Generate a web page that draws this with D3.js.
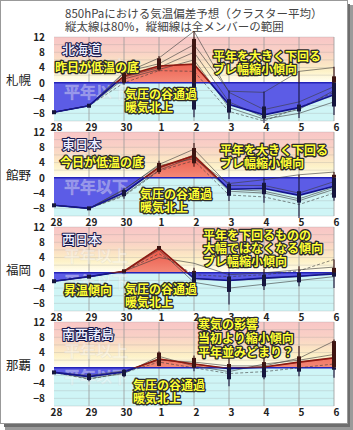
<!DOCTYPE html>
<html>
<head>
<meta charset="utf-8">
<script src="https://cdn.jsdelivr.net/npm/d3@7"></script>
<style>
body { margin: 0; background: #fff; }
text { font-family: "Noto Sans CJK JP", "DejaVu Sans", sans-serif; }
</style>
</head>
<body>
<svg id="chart" width="353" height="430"></svg>
<script>
var days = ['28', '29', '30', '1', '2', '3', '4', '5', '6'];
var cities = ['札幌', '館野', '福岡', '那覇'];
var regions = ['北海道', '東日本', '西日本', '南西諸島'];
var yTicks = [12, 8, 4, 0, -4, -8];

// cluster mean
var meanSapporo = [-7.7, -6.0, 1.8, 4.4, 4.9, -5.7, -8.4, -6.5, -3.1];
var meanTateno = [-7.2, -8.0, -3.9, 2.8, 5.8, -3.0, -2.8, -4.6, -2.2];
var meanFukuoka = [-2.2, -1.0, 0.4, 6.5, -1.5, -2.0, -1.4, -0.9, -0.3];
var meanNaha = [-1.2, -2.3, -1.1, 2.3, 1.0, -0.2, 0.2, 1.5, 2.6];

// [80% low, 80% high, all low, all high]
var rangeSapporo = [null, null, [0, 2.6, -0.5, 3.2], [3.5, 6.4, 3.0, 7.0], [-7, 11.5, -9, 13.5],
    [-7.8, -4.3, -9.5, -2.0], [-9.3, -6.2, -10.5, -2.3], [-7.5, -5.7, -9.2, 3.0], [-6.2, 1.7, -8.4, 4.2]];
var rangeTateno = [null, null, [-4.8, -3.2, -5.5, -2.6], [1.5, 3.9, 1.0, 4.5], [3.8, 7.8, 2.9, 9.1],
    [-4.7, -1.6, -6.1, -1.0], [-4.3, -1.3, -6.5, 0], [-6.5, -3.5, -10.5, 0.8], [-5.2, 0.8, -6, 1.5]];
var rangeFukuoka = [null, null, null, null, [-3.5, 0.5, -4, 1.3],
    [-5, -1, -8.3, 0], [-3.5, -0.5, -4.5, 1], [-2.5, 0, -3.5, 1.7], [-1, 1.3, -4, 3.5]];
var rangeNaha = [null, [-3.2, -1.5, -3.5, -1.3], [-2.2, -0.5, -2.5, -0.3], [0.5, 4, 0.4, 4.3], [0, 2.6, -0.9, 3.2],
    [-3, 1, -4.8, 2.6], [-2.5, 1.5, -3, 3], [-1, 3, -2.2, 5.7], [-0.5, 7, -2.6, 7.4]];

// a few members (thin lines)
var membersSapporo = [
    [-7.7, -6.0, 2.5, 6.5, 13.5, -2.5, -7, -5, -1],
    [-7.7, -6.0, 1.5, 4, 8, -5, -9, -7, -2],
    [-7.7, -6.0, 1.0, 3.5, 6, -6.5, -9.5, -8, -5],
    [-7.7, -6.0, 2.8, 5, 10, -2.2, -2.5, 3, 4],
    [-7.7, -6.0, 0, 3.2, 3, -7.5, -10, -6.5, -2.5]
];
var membersTateno = [
    [-7.2, -8, -4.5, 2, 5.5, -3.5, -4, -6, -3],
    [-7.2, -8, -3.2, 3.5, 7.5, -2, -2, -4, -1],
    [-7.2, -8, -4, 2.5, 6, -3, -3.5, -5.5, -2.5],
    [-7.2, -8, -3, 3.2, 5, -1.5, -0.5, 0.8, 1.5],
    [-7.2, -8, -4.8, 1.8, 4.5, -4.5, -5, -7, -4]
];
var membersFukuoka = [
    [-2.2, -1, 0.4, 6.5, -1.5, -2, -1.5, -1, 0],
    [-2.2, -1, 0.4, 4, 2.5, -0.5, 0, 0.8, 1.5],
    [-2.2, -1, 0.4, 6, -2.5, -4, -3, -2, -1],
    [-2.2, -1, 0.4, 5, -0.5, -1, -0.5, 0.5, 3.5]
];
var membersNaha = [
    [-1.2, -2.3, -1.1, 2.3, 1, -0.2, 0.2, 1.5, 2.6],
    [-1.2, -2.8, -1.5, 3, 0.5, -1, 1, 2, 3.5],
    [-1.2, -2, -0.8, 2, 1.5, 0.5, 0.5, 2.5, 7],
    [-1.2, -3, -1.3, 1.5, 0, -1.5, -1, 0, 1]
];

var means = [meanSapporo, meanTateno, meanFukuoka, meanNaha];
var ranges = [rangeSapporo, rangeTateno, rangeFukuoka, rangeNaha];
var members = [membersSapporo, membersTateno, membersFukuoka, membersNaha];

var notes = [
    {k: 0, x: 55, y: 68, t: '昨日が低温の底'},
    {k: 0, x: 125, y: 95, t: '気圧の谷通過'},
    {k: 0, x: 125, y: 108, t: '暖気北上'},
    {k: 0, x: 213, y: 57, t: '平年を大きく下回る'},
    {k: 0, x: 213, y: 70, t: 'ブレ幅縮小傾向'},
    {k: 1, x: 60, y: 163, t: '今日が低温の底'},
    {k: 1, x: 140, y: 195, t: '気圧の谷通過'},
    {k: 1, x: 140, y: 208, t: '暖気北上'},
    {k: 1, x: 220, y: 151, t: '平年を大きく下回る'},
    {k: 1, x: 220, y: 164, t: 'ブレ幅縮小傾向'},
    {k: 2, x: 203, y: 236, t: '平年を下回るものの'},
    {k: 2, x: 203, y: 249, t: '大幅ではなくなる傾向'},
    {k: 2, x: 203, y: 262, t: 'ブレ幅縮小傾向'},
    {k: 2, x: 64, y: 291, t: '昇温傾向'},
    {k: 2, x: 125, y: 290, t: '気圧の谷通過'},
    {k: 2, x: 125, y: 303, t: '暖気北上'},
    {k: 3, x: 198, y: 325, t: '寒気の影響'},
    {k: 3, x: 198, y: 339, t: '当初より縮小傾向'},
    {k: 3, x: 198, y: 353, t: '平年並みどまり？'},
    {k: 3, x: 133, y: 386, t: '気圧の谷通過'},
    {k: 3, x: 133, y: 399, t: '暖気北上'}
];

var W = 353, H = 430;
var TOP = 37, PH = 84, STEP = 95;
var X0 = 54, X1 = 334;

var svg = d3.select('#chart');
var defs = svg.append('defs');

var x = d3.scalePoint().domain(days).range([X0, X1]);

var yFor = function (k) {
    return d3.scaleLinear().domain([-10, 12]).range([TOP + PH + k * STEP, TOP + k * STEP]);
};

// frame with shadow
svg.append('rect').attr('x', 5).attr('y', 5).attr('width', 348).attr('height', 425).attr('fill', '#9a9a9a');
svg.append('rect').attr('x', 4).attr('y', 4).attr('width', 346).attr('height', 423).attr('fill', '#6e6e6e');
svg.append('rect').attr('x', 0.5).attr('y', 0.5).attr('width', 347).attr('height', 423)
    .attr('fill', '#fff').attr('stroke', '#999');

// title
svg.append('text').attr('x', 65).attr('y', 18).attr('font-size', 11.5).attr('fill', '#444')
    .text('850hPaにおける気温偏差予想（クラスター平均）');
svg.append('text').attr('x', 65).attr('y', 31).attr('font-size', 11.5).attr('fill', '#444')
    .text('縦太線は80%，縦細線は全メンバーの範囲');

var drawPanel = function (k) {
    var y = yFor(k);
    var mean = means[k];
    var y0 = y(0);
    var g = svg.append('g');

    var grad = defs.append('linearGradient').attr('id', 'bg' + k)
        .attr('gradientUnits', 'userSpaceOnUse')
        .attr('x1', 0).attr('x2', 0).attr('y1', y(12)).attr('y2', y(0));
    [[0, '#f8c6c6'], [0.3, '#f9d0c6'], [0.55, '#fbe2c4'], [0.75, '#fdf2c8'], [0.92, '#fffbe6'], [1, '#ffffff']]
        .forEach(function (s) {
            grad.append('stop').attr('offset', s[0]).attr('stop-color', s[1]);
        });
    var rgrad = defs.append('linearGradient').attr('id', 'red' + k)
        .attr('gradientUnits', 'userSpaceOnUse')
        .attr('x1', 0).attr('x2', 0).attr('y1', y(8)).attr('y2', y(0));
    rgrad.append('stop').attr('offset', 0).attr('stop-color', '#e8493a');
    rgrad.append('stop').attr('offset', 1).attr('stop-color', '#f48a78');

    defs.append('clipPath').attr('id', 'up' + k).append('rect')
        .attr('x', 0).attr('y', 0).attr('width', W).attr('height', y0);
    defs.append('clipPath').attr('id', 'dn' + k).append('rect')
        .attr('x', 0).attr('y', y0).attr('width', W).attr('height', H - y0);

    // background bands
    g.append('rect').attr('x', X0).attr('y', y(12)).attr('width', X1 - X0).attr('height', y0 - y(12))
        .attr('fill', 'url(#bg' + k + ')');
    g.append('rect').attr('x', X0).attr('y', y0).attr('width', X1 - X0).attr('height', y(-10) - y0)
        .attr('fill', '#cff5f6');

    // grid
    g.append('g').selectAll('line').data(d3.range(-10, 13, 2)).enter().append('line')
        .attr('x1', X0).attr('x2', X1).attr('y1', function (d) { return y(d); })
        .attr('y2', function (d) { return y(d); })
        .attr('stroke', '#9a9a9a').attr('stroke-opacity', 0.45).attr('stroke-width', 0.6);
    g.append('g').selectAll('line').data(days.slice(1)).enter().append('line')
        .attr('x1', function (d) { return x(d); }).attr('x2', function (d) { return x(d); })
        .attr('y1', y(12)).attr('y2', y(-10))
        .attr('stroke', '#999').attr('stroke-width', 0.8);

    // fill between mean and zero
    var area = d3.area()
        .x(function (d, i) { return x(days[i]); })
        .y0(y0)
        .y1(function (d) { return y(d); });
    g.append('path').datum(mean).attr('d', area).attr('fill', 'url(#red' + k + ')')
        .attr('clip-path', 'url(#up' + k + ')');
    g.append('path').datum(mean).attr('d', area).attr('fill', '#5c5ce6')
        .attr('clip-path', 'url(#dn' + k + ')');

    // zero line
    g.append('line').attr('x1', X0).attr('x2', X1).attr('y1', y0).attr('y2', y0)
        .attr('stroke', '#2323b8').attr('stroke-width', 1.5);

    // faint labels
    g.append('text').attr('x', 64).attr('y', y0 - 16).attr('dy', '0.35em')
        .attr('font-size', 16).attr('font-weight', 700).attr('fill', '#fff').attr('fill-opacity', 0.4)
        .attr('stroke', '#d0d0d0').attr('stroke-width', 0.5).attr('stroke-opacity', 0.4)
        .text('平年以上');
    g.append('text').attr('x', 64).attr('y', y0 + 10).attr('dy', '0.35em')
        .attr('font-size', 16).attr('font-weight', 700).attr('fill', '#fff').attr('fill-opacity', 0.35)
        .attr('stroke', '#d0d0d0').attr('stroke-width', 0.5).attr('stroke-opacity', 0.4)
        .text('平年以下');

    // members
    var line = d3.line()
        .x(function (d, i) { return x(days[i]); })
        .y(function (d) { return y(d); });
    g.append('g').selectAll('path').data(members[k]).enter().append('path')
        .attr('d', line).attr('fill', 'none')
        .attr('stroke', '#3a3a3a').attr('stroke-width', 0.6)
        .attr('stroke-dasharray', function (d, i) { return i === members[k].length - 1 ? '3,2' : null; });

    // mean line
    g.append('path').datum(mean).attr('d', line).attr('fill', 'none')
        .attr('stroke', '#8e1a12').attr('stroke-width', 1.6).attr('clip-path', 'url(#up' + k + ')');
    g.append('path').datum(mean).attr('d', line).attr('fill', 'none')
        .attr('stroke', '#14148c').attr('stroke-width', 1.6).attr('clip-path', 'url(#dn' + k + ')');

    // range bars, coloured by side of zero
    [['up', '#3e1512'], ['dn', '#16163e']].forEach(function (side) {
        var bg = g.append('g').attr('clip-path', 'url(#' + side[0] + k + ')');
        var bars = ranges[k].map(function (r, i) { return {r: r, day: days[i]}; })
            .filter(function (d) { return d.r; });
        bg.selectAll('line').data(bars).enter().append('line')
            .attr('x1', function (d) { return x(d.day); }).attr('x2', function (d) { return x(d.day); })
            .attr('y1', function (d) { return y(d.r[2]); }).attr('y2', function (d) { return y(d.r[3]); })
            .attr('stroke', side[1]).attr('stroke-width', 1.1);
        bg.selectAll('rect').data(bars).enter().append('rect')
            .attr('x', function (d) { return x(d.day) - 2; }).attr('width', 4)
            .attr('y', function (d) { return y(d.r[1]); })
            .attr('height', function (d) { return y(d.r[0]) - y(d.r[1]); })
            .attr('fill', side[1]);
        bg.selectAll('rect.pt').data(mean).enter().append('rect').attr('class', 'pt')
            .attr('x', function (d, i) { return x(days[i]) - 2; }).attr('width', 4)
            .attr('y', function (d) { return y(d) - 2; }).attr('height', 4)
            .attr('fill', side[1]);
    });

    // axes
    var yAxis = d3.axisLeft(y).tickValues(yTicks).tickSize(0).tickPadding(9);
    var ya = g.append('g').attr('transform', 'translate(' + X0 + ',0)').call(yAxis);
    ya.select('.domain').remove();
    ya.selectAll('text').attr('font-family', 'DejaVu Sans').attr('font-weight', 700)
        .attr('font-size', 10).attr('fill', '#222');

    var xAxis = d3.axisBottom(x).tickSize(0).tickPadding(3);
    var xa = g.append('g').attr('transform', 'translate(2,' + y(-10) + ')').call(xAxis);
    xa.select('.domain').remove();
    xa.selectAll('text').attr('font-family', 'DejaVu Sans').attr('font-weight', 700)
        .attr('font-size', 10).attr('fill', '#222');

    // city + region labels
    g.append('text').attr('x', 6).attr('y', y0 - 2).attr('dy', '0.35em')
        .attr('font-size', 12.5).attr('fill', '#222').text(cities[k]);
    g.append('text').attr('x', 62).attr('y', TOP + k * STEP + 12).attr('dy', '0.35em')
        .attr('font-size', 13).attr('font-weight', 500).attr('fill', '#eef0ff')
        .attr('stroke', '#1c1c4e').attr('stroke-width', 2.2).attr('paint-order', 'stroke')
        .attr('stroke-linejoin', 'round')
        .text(regions[k]);
};

[0, 1, 2, 3].forEach(drawPanel);

// yellow notes on top
svg.append('g').selectAll('text').data(notes).enter().append('text')
    .attr('x', function (d) { return d.x; })
    .attr('y', function (d) { return d.y; })
    .attr('dy', '0.35em')
    .attr('font-size', 12).attr('font-weight', 700)
    .attr('fill', '#ffff33').attr('stroke', '#2a2a2a').attr('stroke-width', 2.6)
    .attr('stroke-linejoin', 'round').attr('paint-order', 'stroke')
    .text(function (d) { return d.t; });
</script>
</body>
</html>
